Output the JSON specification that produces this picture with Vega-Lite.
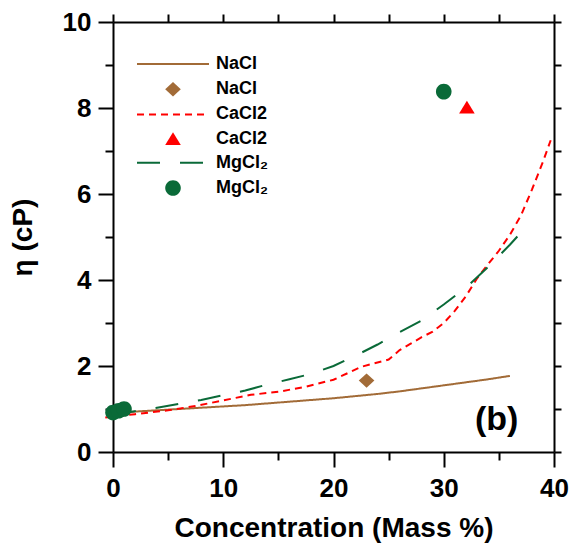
{
  "$schema": "https://vega.github.io/schema/vega-lite/v6.json",
  "width": 441,
  "height": 430,
  "autosize": "none",
  "padding": {"left": 113, "top": 22, "right": 17, "bottom": 98},
  "background": "white",
  "config": {
    "view": {"stroke": null},
    "font": "Liberation Sans",
    "axis": {
      "grid": false,
      "domainColor": "black",
      "domainWidth": 2,
      "tickColor": "black",
      "tickWidth": 2,
      "labelColor": "black",
      "labelFont": "Liberation Sans",
      "labelFontSize": 26,
      "labelFontWeight": "bold",
      "titleColor": "black",
      "titleFont": "Liberation Sans",
      "titleFontSize": 28,
      "titleFontWeight": "bold",
      "labelOverlap": false,
      "labelFlush": false
    }
  },
  "datasets": {
    "curves": [
      {"series": "NaCl|curve", "x": 0, "y": 0.89},
      {"series": "NaCl|curve", "x": 2, "y": 0.94},
      {"series": "NaCl|curve", "x": 4, "y": 0.97},
      {"series": "NaCl|curve", "x": 6, "y": 1.0},
      {"series": "NaCl|curve", "x": 8, "y": 1.03},
      {"series": "NaCl|curve", "x": 10, "y": 1.06},
      {"series": "NaCl|curve", "x": 12, "y": 1.09},
      {"series": "NaCl|curve", "x": 14, "y": 1.13},
      {"series": "NaCl|curve", "x": 16, "y": 1.17},
      {"series": "NaCl|curve", "x": 18, "y": 1.21},
      {"series": "NaCl|curve", "x": 20, "y": 1.25},
      {"series": "NaCl|curve", "x": 22, "y": 1.3},
      {"series": "NaCl|curve", "x": 24, "y": 1.35},
      {"series": "NaCl|curve", "x": 26, "y": 1.41},
      {"series": "NaCl|curve", "x": 28, "y": 1.48},
      {"series": "NaCl|curve", "x": 30, "y": 1.55},
      {"series": "NaCl|curve", "x": 32, "y": 1.62},
      {"series": "NaCl|curve", "x": 34, "y": 1.69},
      {"series": "NaCl|curve", "x": 36, "y": 1.77},
      {"series": "CaCl2|curve", "x": -0.7, "y": 0.8},
      {"series": "CaCl2|curve", "x": 2, "y": 0.88},
      {"series": "CaCl2|curve", "x": 5, "y": 0.97},
      {"series": "CaCl2|curve", "x": 7.5, "y": 1.07},
      {"series": "CaCl2|curve", "x": 10, "y": 1.2},
      {"series": "CaCl2|curve", "x": 12.5, "y": 1.33},
      {"series": "CaCl2|curve", "x": 15, "y": 1.4},
      {"series": "CaCl2|curve", "x": 17.5, "y": 1.52},
      {"series": "CaCl2|curve", "x": 20, "y": 1.68},
      {"series": "CaCl2|curve", "x": 22.5, "y": 1.98},
      {"series": "CaCl2|curve", "x": 25, "y": 2.15},
      {"series": "CaCl2|curve", "x": 26, "y": 2.37},
      {"series": "CaCl2|curve", "x": 27, "y": 2.52},
      {"series": "CaCl2|curve", "x": 28, "y": 2.67},
      {"series": "CaCl2|curve", "x": 29, "y": 2.8},
      {"series": "CaCl2|curve", "x": 30, "y": 3.0},
      {"series": "CaCl2|curve", "x": 31, "y": 3.28},
      {"series": "CaCl2|curve", "x": 32, "y": 3.62},
      {"series": "CaCl2|curve", "x": 33, "y": 4.03},
      {"series": "CaCl2|curve", "x": 34, "y": 4.36},
      {"series": "CaCl2|curve", "x": 35, "y": 4.68},
      {"series": "CaCl2|curve", "x": 36, "y": 5.05},
      {"series": "CaCl2|curve", "x": 37, "y": 5.5},
      {"series": "CaCl2|curve", "x": 38, "y": 6.1},
      {"series": "CaCl2|curve", "x": 39, "y": 6.75},
      {"series": "CaCl2|curve", "x": 39.7, "y": 7.25},
      {"series": "MgCl2|curve", "x": 0, "y": 0.88},
      {"series": "MgCl2|curve", "x": 2, "y": 0.95},
      {"series": "MgCl2|curve", "x": 4, "y": 1.03},
      {"series": "MgCl2|curve", "x": 6, "y": 1.12},
      {"series": "MgCl2|curve", "x": 8, "y": 1.21},
      {"series": "MgCl2|curve", "x": 10, "y": 1.32},
      {"series": "MgCl2|curve", "x": 12, "y": 1.43},
      {"series": "MgCl2|curve", "x": 14, "y": 1.57},
      {"series": "MgCl2|curve", "x": 16, "y": 1.69},
      {"series": "MgCl2|curve", "x": 18, "y": 1.82},
      {"series": "MgCl2|curve", "x": 20, "y": 2.0},
      {"series": "MgCl2|curve", "x": 22, "y": 2.24},
      {"series": "MgCl2|curve", "x": 24, "y": 2.5},
      {"series": "MgCl2|curve", "x": 26, "y": 2.79},
      {"series": "MgCl2|curve", "x": 28, "y": 3.06},
      {"series": "MgCl2|curve", "x": 30, "y": 3.43},
      {"series": "MgCl2|curve", "x": 32, "y": 3.82},
      {"series": "MgCl2|curve", "x": 34, "y": 4.3},
      {"series": "MgCl2|curve", "x": 36, "y": 4.82},
      {"series": "MgCl2|curve", "x": 37.2, "y": 5.16}
    ],
    "points": [
      {"series": "NaCl|data", "x": 23, "y": 1.66},
      {"series": "CaCl2|data", "x": 32.1, "y": 8.02},
      {"series": "MgCl2|data", "x": 0, "y": 0.92},
      {"series": "MgCl2|data", "x": 0.5, "y": 0.96},
      {"series": "MgCl2|data", "x": 1.0, "y": 1.0},
      {"series": "MgCl2|data", "x": 30, "y": 8.38}
    ]
  },
  "layer": [
    {
      "data": {"name": "curves"},
      "mark": {"type": "line", "strokeWidth": 2, "clip": false},
      "encoding": {
        "x": {
          "field": "x", "type": "quantitative",
          "scale": {"domain": [0, 40], "nice": false, "zero": false},
          "axis": {
            "values": [0, 5, 10, 15, 20, 25, 30, 35, 40],
            "labelExpr": "datum.value % 10 === 0 ? datum.label : ''",
            "tickSize": {"condition": {"test": "datum.value % 10 === 0", "value": 15}, "value": 8},
            "labelPadding": 8,
            "title": "Concentration (Mass %)",
            "titlePadding": 13
          }
        },
        "y": {
          "field": "y", "type": "quantitative",
          "scale": {"domain": [0, 10], "nice": false, "zero": false},
          "axis": {
            "values": [0, 1, 2, 3, 4, 5, 6, 7, 8, 9, 10],
            "labelExpr": "datum.value % 2 === 0 ? datum.label : ''",
            "tickSize": {"condition": {"test": "datum.value % 2 === 0", "value": 15}, "value": 8},
            "labelPadding": 7,
            "title": "η (cP)",
            "titlePadding": 25
          }
        },
        "stroke": {
          "field": "series", "type": "nominal",
          "scale": {
            "domain": ["NaCl|curve", "NaCl|data", "CaCl2|curve", "CaCl2|data", "MgCl2|curve", "MgCl2|data"],
            "range": ["#a26b37", "transparent", "#ff0000", "transparent", "#0a6a38", "transparent"]
          },
          "legend": {
            "orient": "none", "legendX": 51, "legendY": 33, "title": null, "padding": 0,
            "labelExpr": "replace(split(datum.value, '|')[0], 'MgCl2', 'MgCl₂')",
            "symbolSize": 144, "symbolStrokeWidth": 2,
            "labelFont": "Liberation Sans", "labelFontSize": 18, "labelFontWeight": "bold", "labelColor": "black",
            "labelOffset": 34, "rowPadding": 4.2
          }
        },
        "strokeDash": {
          "field": "series", "type": "nominal",
          "scale": {
            "domain": ["NaCl|curve", "NaCl|data", "CaCl2|curve", "CaCl2|data", "MgCl2|curve", "MgCl2|data"],
            "range": [[1, 0], [1, 0], [7, 5], [1, 0], [23, 20], [1, 0]]
          },
          "legend": {
            "orient": "none", "legendX": 51, "legendY": 33, "title": null, "padding": 0,
            "labelExpr": "replace(split(datum.value, '|')[0], 'MgCl2', 'MgCl₂')",
            "symbolSize": 144, "symbolStrokeWidth": 2,
            "labelFont": "Liberation Sans", "labelFontSize": 18, "labelFontWeight": "bold", "labelColor": "black",
            "labelOffset": 34, "rowPadding": 4.2
          }
        }
      }
    },
    {
      "data": {"name": "points"},
      "mark": {"type": "point", "filled": true, "size": 144, "opacity": 1, "strokeWidth": 0, "clip": false},
      "encoding": {
        "x": {"field": "x", "type": "quantitative", "axis": null},
        "y": {"field": "y", "type": "quantitative", "axis": null},
        "fill": {
          "field": "series", "type": "nominal",
          "scale": {
            "domain": ["NaCl|curve", "NaCl|data", "CaCl2|curve", "CaCl2|data", "MgCl2|curve", "MgCl2|data"],
            "range": ["transparent", "#a26b37", "transparent", "#ff0000", "transparent", "#0a6a38"]
          },
          "legend": {
            "orient": "none", "legendX": 51, "legendY": 33, "title": null, "padding": 0,
            "labelExpr": "replace(split(datum.value, '|')[0], 'MgCl2', 'MgCl₂')",
            "symbolSize": 144, "symbolStrokeWidth": 2,
            "labelFont": "Liberation Sans", "labelFontSize": 18, "labelFontWeight": "bold", "labelColor": "black",
            "labelOffset": 34, "rowPadding": 4.2
          }
        },
        "shape": {
          "field": "series", "type": "nominal",
          "scale": {
            "domain": ["NaCl|curve", "NaCl|data", "CaCl2|curve", "CaCl2|data", "MgCl2|curve", "MgCl2|data"],
            "range": [
              "M-6,0L6,0",
              "M0,-1.2L1.3,0L0,1.2L-1.3,0Z",
              "M-6,0L6,0",
              "M0,-1.05L1.3,1.05L-1.3,1.05Z",
              "M-6,0L6,0",
              "M-1.3,0A1.3,1.3,0,1,1,1.3,0A1.3,1.3,0,1,1,-1.3,0Z"
            ]
          },
          "legend": {
            "orient": "none", "legendX": 51, "legendY": 33, "title": null, "padding": 0,
            "labelExpr": "replace(split(datum.value, '|')[0], 'MgCl2', 'MgCl₂')",
            "symbolSize": 144, "symbolStrokeWidth": 2,
            "labelFont": "Liberation Sans", "labelFontSize": 18, "labelFontWeight": "bold", "labelColor": "black",
            "labelOffset": 34, "rowPadding": 4.2
          }
        }
      }
    },
    {
      "data": {"values": [{"label": "(b)"}]},
      "mark": {"type": "text", "font": "Liberation Sans", "fontSize": 34, "fontWeight": "bold", "align": "center", "baseline": "middle", "color": "black"},
      "encoding": {
        "x": {"datum": 34.8, "type": "quantitative", "axis": null},
        "y": {"datum": 0.74, "type": "quantitative", "axis": null},
        "text": {"field": "label", "type": "nominal"}
      }
    },
    {
      "data": {"name": "points"},
      "mark": {"type": "point", "opacity": 0},
      "encoding": {
        "x": {
          "field": "x", "type": "quantitative",
          "axis": {"orient": "top", "values": [0, 5, 10, 15, 20, 25, 30, 35, 40], "labels": false, "tickSize": 8, "title": null}
        },
        "y": {
          "field": "y", "type": "quantitative",
          "axis": {"orient": "right", "values": [0, 1, 2, 3, 4, 5, 6, 7, 8, 9, 10], "labels": false, "tickSize": 7, "title": null}
        }
      }
    }
  ],
  "resolve": {"axis": {"x": "independent", "y": "independent"}}
}
